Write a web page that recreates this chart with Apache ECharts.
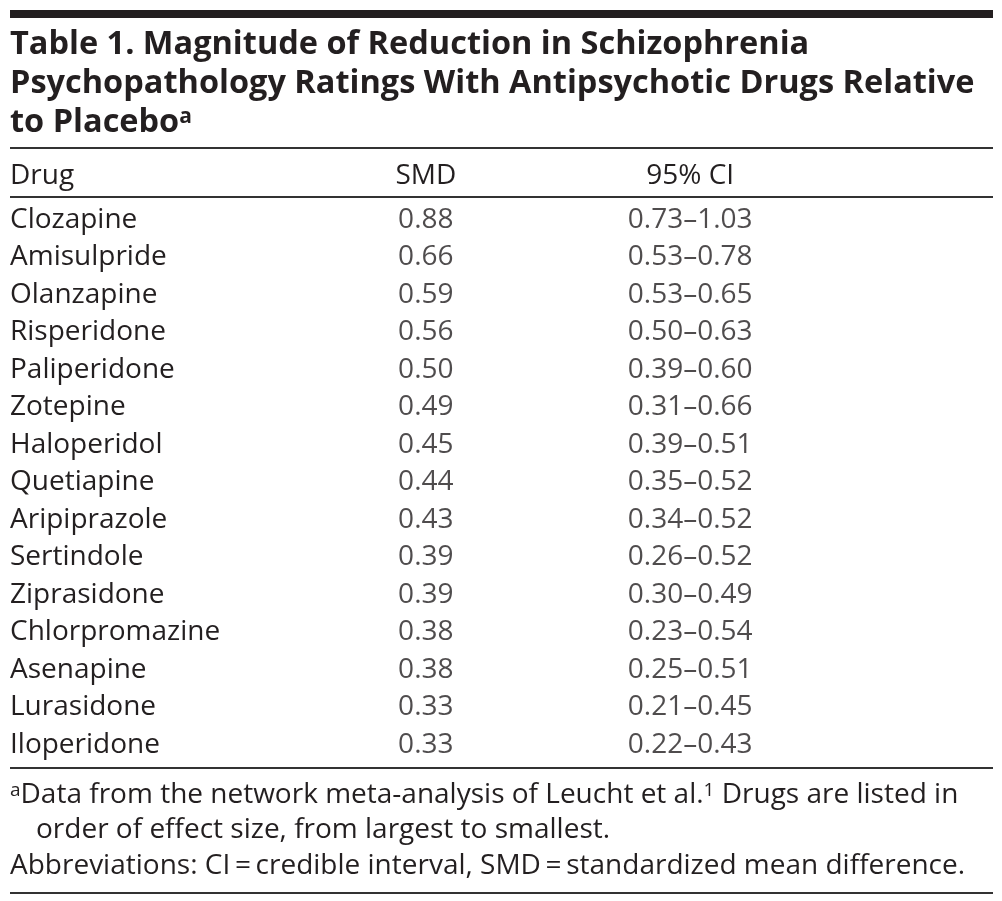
<!DOCTYPE html>
<html>
<head>
<meta charset="utf-8">
<script src="https://cdn.jsdelivr.net/npm/echarts@6/dist/echarts.min.js"></script>
<style>
	html, body { margin: 0; padding: 0; background: #fff; }
	#main { width: 1002px; height: 901px; }
</style>
</head>
<body>
<div id="main"></div>
<script>
// table data
var drugs = ['Clozapine', 'Amisulpride', 'Olanzapine', 'Risperidone', 'Paliperidone', 'Zotepine',
	'Haloperidol', 'Quetiapine', 'Aripiprazole', 'Sertindole', 'Ziprasidone', 'Chlorpromazine',
	'Asenapine', 'Lurasidone', 'Iloperidone'];
var smd = [0.88, 0.66, 0.59, 0.56, 0.50, 0.49, 0.45, 0.44, 0.43, 0.39, 0.39, 0.38, 0.38, 0.33, 0.33];
var ciLow = [0.73, 0.53, 0.53, 0.50, 0.39, 0.31, 0.39, 0.35, 0.34, 0.26, 0.30, 0.23, 0.25, 0.21, 0.22];
var ciHigh = [1.03, 0.78, 0.65, 0.63, 0.60, 0.66, 0.51, 0.52, 0.52, 0.52, 0.49, 0.54, 0.51, 0.45, 0.43];
var headers = ['Drug', 'SMD', '95% CI'];

var FONT = '"Open Sans", "Noto Sans", sans-serif';
var INK = '#231f20';
var RULE = '#333333';
// column centres, as fraction of the grid width
var colSmd = 0.423, colCi = 0.692;

var dom = document.getElementById('main');
var myChart = echarts.init(dom);

function cellSeries(pos, texts) {
	return {
		type: 'scatter',
		symbolSize: 1,
		itemStyle: { color: 'rgba(0,0,0,0)' },
		silent: true,
		data: drugs.map(function (d, i) { return [pos, d, texts[i]]; }),
		label: {
			show: true,
			position: 'inside',
			formatter: function (p) { return p.data[2]; },
			fontFamily: FONT,
			fontSize: 28,
			color: INK
		}
	};
}

function rule(y, h) {
	return { type: 'rect', shape: { x: 10, y: y, width: 983, height: h }, style: { fill: RULE }, silent: true };
}
function txt(x, y, s, opts) {
	var st = {
		text: s, x: x, y: y, fill: INK,
		fontFamily: FONT, fontSize: 28,
		verticalAlign: 'middle', align: 'left'
	};
	for (var k in opts) st[k] = opts[k];
	return { type: 'text', style: st, silent: true };
}

var supStyle = { fontSize: 19, verticalAlign: 'top', fontFamily: FONT, fill: INK };

var option = {
	animation: false,
	grid: { left: 10, right: 9, top: 201, height: 562.5 },
	xAxis: { type: 'value', min: 0, max: 1, show: false },
	yAxis: {
		type: 'category',
		inverse: true,
		data: drugs,
		axisLine: { show: false },
		axisTick: { show: false },
		splitLine: { show: false },
		axisLabel: {
			align: 'left',
			margin: 0,
			fontFamily: FONT,
			fontSize: 28,
			color: INK
		}
	},
	series: [
		cellSeries(colSmd, smd.map(function (v) { return v.toFixed(2); })),
		cellSeries(colCi, ciLow.map(function (v, i) { return v.toFixed(2) + '\u2013' + ciHigh[i].toFixed(2); }))
	],
	graphic: [
		{ type: 'rect', shape: { x: 10, y: 10, width: 983, height: 8 }, style: { fill: INK }, silent: true },
		txt(10, 45, 'Table 1. Magnitude of Reduction in Schizophrenia', { fontSize: 32.5, fontWeight: 'bold' }),
		txt(10, 84, 'Psychopathology Ratings With Antipsychotic Drugs Relative', { fontSize: 32.5, fontWeight: 'bold' }),
		txt(10, 123, '{m|to Placebo}{s|a}', {
			rich: {
				m: { fontSize: 32.5, fontWeight: 'bold', fontFamily: FONT, fill: INK },
				s: { fontSize: 21, fontWeight: 'bold', verticalAlign: 'top', fontFamily: FONT, fill: INK }
			}
		}),
		rule(147, 2),
		txt(10, 176, headers[0]),
		txt(10 + 983 * colSmd, 176, headers[1], { align: 'center' }),
		txt(10 + 983 * colCi, 176, headers[2], { align: 'center' }),
		rule(196, 2),
		rule(767, 2),
		txt(10, 795, '{s|a}{m|Data from the network meta-analysis of Leucht et al.}{s|1}{m| Drugs are listed in}', {
			rich: { m: { fontSize: 28, fontFamily: FONT, fill: INK }, s: supStyle }
		}),
		txt(36, 830, 'order of effect size, from largest to smallest.'),
		txt(10, 866, 'Abbreviations: CI\u2009=\u2009credible interval, SMD\u2009=\u2009standardized mean difference.'),
		rule(892, 2)
	]
};
myChart.setOption(option, true);
</script>
</body>
</html>
